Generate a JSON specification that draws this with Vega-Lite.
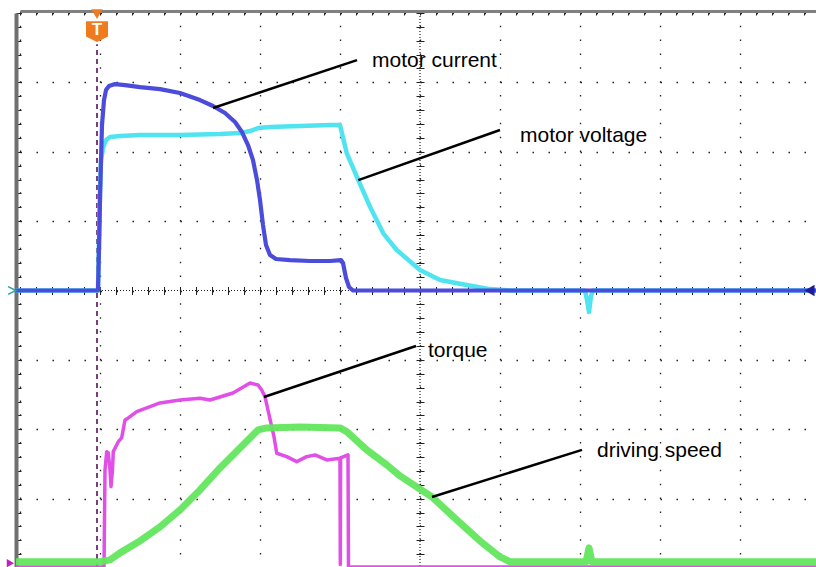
{
  "$schema": "https://vega.github.io/schema/vega-lite/v6.json",
  "width": 800,
  "height": 555,
  "autosize": "none",
  "padding": {"left": 20, "top": 13, "right": 0, "bottom": 0},
  "background": "white",
  "config": {"view": {"stroke": null}},
  "resolve": {"axis": {"x": "independent", "y": "independent"}},
  "datasets": {
    "current": [
      {"x": -0.05, "y": 0}, {"x": 0.975, "y": 0}, {"x": 0.9875, "y": 0.584}, {"x": 1.0, "y": 1.304},
      {"x": 1.0125, "y": 1.88}, {"x": 1.025, "y": 2.385}, {"x": 1.05, "y": 2.745}, {"x": 1.075, "y": 2.889},
      {"x": 1.1125, "y": 2.947}, {"x": 1.1875, "y": 2.976}, {"x": 1.3125, "y": 2.961}, {"x": 1.5, "y": 2.932},
      {"x": 1.75, "y": 2.903}, {"x": 2.0, "y": 2.846}, {"x": 2.25, "y": 2.745}, {"x": 2.4125, "y": 2.659},
      {"x": 2.5625, "y": 2.558}, {"x": 2.6875, "y": 2.428}, {"x": 2.775, "y": 2.284}, {"x": 2.85, "y": 2.097},
      {"x": 2.9125, "y": 1.88}, {"x": 2.9625, "y": 1.592}, {"x": 3.0, "y": 1.304}, {"x": 3.0375, "y": 0.944},
      {"x": 3.075, "y": 0.656}, {"x": 3.125, "y": 0.512}, {"x": 3.2, "y": 0.454}, {"x": 3.375, "y": 0.439},
      {"x": 3.625, "y": 0.425}, {"x": 3.875, "y": 0.425}, {"x": 4.0125, "y": 0.439}, {"x": 4.0375, "y": 0.396},
      {"x": 4.075, "y": 0.18}, {"x": 4.1125, "y": 0.05}, {"x": 4.1625, "y": 0}, {"x": 10, "y": 0}
    ],
    "voltage": [
      {"x": -0.05, "y": 0}, {"x": 0.975, "y": 0}, {"x": 0.9875, "y": 0.728}, {"x": 1.0, "y": 1.448},
      {"x": 1.0125, "y": 1.88}, {"x": 1.0375, "y": 2.053}, {"x": 1.075, "y": 2.169}, {"x": 1.125, "y": 2.212},
      {"x": 1.25, "y": 2.226}, {"x": 1.5, "y": 2.241}, {"x": 2.0, "y": 2.241}, {"x": 2.5, "y": 2.255},
      {"x": 2.75, "y": 2.269}, {"x": 2.875, "y": 2.298}, {"x": 2.975, "y": 2.341}, {"x": 3.125, "y": 2.356},
      {"x": 3.5, "y": 2.37}, {"x": 3.875, "y": 2.384}, {"x": 4.0, "y": 2.384}, {"x": 4.084, "y": 1.981},
      {"x": 4.229, "y": 1.592}, {"x": 4.375, "y": 1.207}, {"x": 4.541, "y": 0.824}, {"x": 4.709, "y": 0.584},
      {"x": 5.0, "y": 0.295}, {"x": 5.25, "y": 0.151}, {"x": 5.584, "y": 0.079}, {"x": 5.875, "y": 0.02},
      {"x": 6.125, "y": 0}, {"x": 7.0625, "y": 0}, {"x": 7.0875, "y": -0.137}, {"x": 7.1125, "y": -0.31},
      {"x": 7.1375, "y": -0.08}, {"x": 7.1625, "y": 0}, {"x": 10, "y": 0}
    ],
    "torque": [
      {"x": -0.05, "y": -3.985}, {"x": 1.05, "y": -3.985}, {"x": 1.0625, "y": -2.586}, {"x": 1.084, "y": -2.323},
      {"x": 1.104, "y": -2.341}, {"x": 1.125, "y": -2.586}, {"x": 1.1375, "y": -2.827}, {"x": 1.156, "y": -2.586},
      {"x": 1.166, "y": -2.323}, {"x": 1.229, "y": -2.179}, {"x": 1.271, "y": -2.125}, {"x": 1.3125, "y": -1.866},
      {"x": 1.354, "y": -1.837}, {"x": 1.459, "y": -1.746}, {"x": 1.584, "y": -1.693}, {"x": 1.75, "y": -1.621},
      {"x": 2.0, "y": -1.578}, {"x": 2.25, "y": -1.553}, {"x": 2.375, "y": -1.578}, {"x": 2.6625, "y": -1.477},
      {"x": 2.875, "y": -1.333}, {"x": 2.975, "y": -1.362}, {"x": 3.021, "y": -1.434}, {"x": 3.0625, "y": -1.53},
      {"x": 3.104, "y": -1.746}, {"x": 3.146, "y": -1.963}, {"x": 3.175, "y": -2.107}, {"x": 3.209, "y": -2.346},
      {"x": 3.334, "y": -2.395}, {"x": 3.459, "y": -2.467}, {"x": 3.584, "y": -2.395}, {"x": 3.6875, "y": -2.37},
      {"x": 3.834, "y": -2.442}, {"x": 4.0, "y": -2.418}, {"x": 4.004, "y": -3.95}, {"x": 4.0075, "y": -2.414},
      {"x": 4.1, "y": -2.37}, {"x": 4.106, "y": -3.985}, {"x": 10, "y": -3.985}
    ],
    "speed": [
      {"x": -0.05, "y": -3.91}, {"x": 1.0, "y": -3.91}, {"x": 1.125, "y": -3.883}, {"x": 1.25, "y": -3.782},
      {"x": 1.5, "y": -3.61}, {"x": 1.75, "y": -3.408}, {"x": 2.0, "y": -3.163}, {"x": 2.25, "y": -2.875},
      {"x": 2.5, "y": -2.558}, {"x": 2.75, "y": -2.27}, {"x": 2.975, "y": -2.01}, {"x": 3.084, "y": -1.981},
      {"x": 3.5, "y": -1.967}, {"x": 4.0, "y": -1.981}, {"x": 4.084, "y": -2.034}, {"x": 4.334, "y": -2.298},
      {"x": 4.584, "y": -2.514}, {"x": 4.75, "y": -2.673}, {"x": 5.15, "y": -2.976}, {"x": 5.5, "y": -3.35},
      {"x": 5.75, "y": -3.61}, {"x": 6.0, "y": -3.84}, {"x": 6.125, "y": -3.91}, {"x": 7.075, "y": -3.91},
      {"x": 7.1125, "y": -3.71}, {"x": 7.15, "y": -3.91}, {"x": 10, "y": -3.91}
    ],
    "leaders": [
      {"x": 4.2125, "y": 3.321, "x2": 2.4125, "y2": 2.63},
      {"x": 6.0, "y": 2.313, "x2": 4.229, "y2": 1.592},
      {"x": 4.95, "y": -0.8, "x2": 3.05, "y2": -1.535},
      {"x": 7.025, "y": -2.298, "x2": 5.15, "y2": -2.976}
    ],
    "labels": [
      {"x": 4.4, "y": 3.22, "t": "motor current"},
      {"x": 6.25, "y": 2.14, "t": "motor voltage"},
      {"x": 5.1, "y": -0.958, "t": "torque"},
      {"x": 7.2125, "y": -2.399, "t": "driving speed"}
    ]
  },
  "layer": [
    {
      "data": {"values": [{"cx": 5}]},
      "mark": {"type": "rule", "color": "#222", "strokeDash": [1, 2], "strokeWidth": 1.2},
      "encoding": {
        "x": {"field": "cx", "type": "quantitative", "scale": {"domain": [0, 10], "nice": false, "zero": false},
          "axis": {"orient": "bottom", "values": [0,1,2,3,4,5,6,7,8,9,10], "grid": true, "gridColor": "#222", "gridDash": [1.5, 12.38], "gridWidth": 1.3, "ticks": false, "labels": false, "domain": false, "title": null}}
      }
    },
    {
      "data": {"values": [{"cy": 0}]},
      "mark": {"type": "rule", "color": "#222", "strokeDash": [1, 2], "strokeWidth": 1.2},
      "encoding": {
        "y": {"field": "cy", "type": "quantitative", "scale": {"domain": [-4, 4], "nice": false, "zero": false},
          "axis": {"orient": "left", "values": [-4,-3,-2,-1,0,1,2,3,4], "grid": true, "gridColor": "#222", "gridDash": [1.5, 14.5], "gridWidth": 1.3, "ticks": false, "labels": false, "domain": false, "title": null}}
      }
    },
    {
      "data": {"values": [{"tx": 0.9625, "ty": -4, "ty2": 3.55}]},
      "mark": {"type": "rule", "color": "#6e2a70", "strokeDash": [5, 4], "strokeWidth": 1.8},
      "encoding": {
        "x": {"field": "tx", "type": "quantitative", "scale": {"domain": [0, 10], "nice": false, "zero": false},
          "axis": {"orient": "top", "offset": 2, "values": [0,0.2,0.4,0.6,0.8,1,1.2,1.4,1.6,1.8,2,2.2,2.4,2.6,2.8,3,3.2,3.4,3.6,3.8,4,4.2,4.4,4.6,4.8,5,5.2,5.4,5.6,5.8,6,6.2,6.4,6.6,6.8,7,7.2,7.4,7.6,7.8,8,8.2,8.4,8.6,8.8,9,9.2,9.4,9.6,9.8,10], "domain": true, "domainColor": "#808080", "domainWidth": 3, "ticks": true, "tickColor": "#222", "tickSize": -4, "tickWidth": 1, "labels": false, "grid": false, "title": null}},
        "y": {"field": "ty", "type": "quantitative", "scale": {"domain": [-4, 4], "nice": false, "zero": false},
          "axis": {"orient": "left", "offset": 4, "values": [-4,-3.8,-3.6,-3.4,-3.2,-3,-2.8,-2.6,-2.4,-2.2,-2,-1.8,-1.6,-1.4,-1.2,-1,-0.8,-0.6,-0.4,-0.2,0,0.2,0.4,0.6,0.8,1,1.2,1.4,1.6,1.8,2,2.2,2.4,2.6,2.8,3,3.2,3.4,3.6,3.8,4], "domain": true, "domainColor": "#707070", "domainWidth": 4, "ticks": true, "tickColor": "#222", "tickSize": -5, "tickWidth": 1, "labels": false, "grid": false, "title": null}},
        "y2": {"field": "ty2"}
      }
    },
    {
      "data": {"name": "voltage"},
      "mark": {"type": "line", "color": "#4fe4ef", "strokeWidth": 4.5, "strokeJoin": "round"},
      "encoding": {
        "x": {"field": "x", "type": "quantitative", "scale": {"domain": [0, 10], "nice": false, "zero": false},
          "axis": {"orient": "bottom", "offset": -281.5, "values": [0,0.2,0.4,0.6,0.8,1,1.2,1.4,1.6,1.8,2,2.2,2.4,2.6,2.8,3,3.2,3.4,3.6,3.8,4,4.2,4.4,4.6,4.8,5,5.2,5.4,5.6,5.8,6,6.2,6.4,6.6,6.8,7,7.2,7.4,7.6,7.8,8,8.2,8.4,8.6,8.8,9,9.2,9.4,9.6,9.8,10], "domain": false, "ticks": true, "tickColor": "#222", "tickSize": 8, "tickWidth": 1, "labels": false, "grid": false, "title": null}},
        "y": {"field": "y", "type": "quantitative", "scale": {"domain": [-4, 4], "nice": false, "zero": false},
          "axis": {"orient": "left", "offset": -404, "values": [-4,-3.8,-3.6,-3.4,-3.2,-3,-2.8,-2.6,-2.4,-2.2,-2,-1.8,-1.6,-1.4,-1.2,-1,-0.8,-0.6,-0.4,-0.2,0,0.2,0.4,0.6,0.8,1,1.2,1.4,1.6,1.8,2,2.2,2.4,2.6,2.8,3,3.2,3.4,3.6,3.8,4], "domain": false, "ticks": true, "tickColor": "#222", "tickSize": 8, "tickWidth": 1, "labels": false, "grid": false, "title": null}},
        "order": {"value": null}
      }
    },
    {
      "data": {"name": "current"},
      "mark": {"type": "line", "color": "#4b4bdc", "strokeWidth": 4.2, "strokeJoin": "round"},
      "encoding": {
        "x": {"field": "x", "type": "quantitative", "scale": {"domain": [0, 10], "nice": false, "zero": false}, "axis": null},
        "y": {"field": "y", "type": "quantitative", "scale": {"domain": [-4, 4], "nice": false, "zero": false}, "axis": null},
        "order": {"value": null}
      }
    },
    {
      "data": {"name": "torque"},
      "mark": {"type": "line", "color": "#e04fe6", "strokeWidth": 3.5, "strokeJoin": "round"},
      "encoding": {
        "x": {"field": "x", "type": "quantitative", "scale": {"domain": [0, 10], "nice": false, "zero": false}, "axis": null},
        "y": {"field": "y", "type": "quantitative", "scale": {"domain": [-4, 4], "nice": false, "zero": false}, "axis": null},
        "order": {"value": null}
      }
    },
    {
      "data": {"name": "speed"},
      "mark": {"type": "line", "color": "#62e65c", "strokeWidth": 7, "strokeJoin": "round", "opacity": 0.95},
      "encoding": {
        "x": {"field": "x", "type": "quantitative", "scale": {"domain": [0, 10], "nice": false, "zero": false}, "axis": null},
        "y": {"field": "y", "type": "quantitative", "scale": {"domain": [-4, 4], "nice": false, "zero": false}, "axis": null},
        "order": {"value": null}
      }
    },
    {
      "data": {"name": "leaders"},
      "mark": {"type": "rule", "color": "#000", "strokeWidth": 2.5},
      "encoding": {
        "x": {"field": "x", "type": "quantitative", "scale": {"domain": [0, 10], "nice": false, "zero": false}, "axis": null},
        "y": {"field": "y", "type": "quantitative", "scale": {"domain": [-4, 4], "nice": false, "zero": false}, "axis": null},
        "x2": {"field": "x2"},
        "y2": {"field": "y2"}
      }
    },
    {
      "data": {"name": "labels"},
      "mark": {"type": "text", "font": "Liberation Sans", "fontSize": 21, "align": "left", "baseline": "alphabetic", "color": "#000"},
      "encoding": {
        "x": {"field": "x", "type": "quantitative", "scale": {"domain": [0, 10], "nice": false, "zero": false}, "axis": null},
        "y": {"field": "y", "type": "quantitative", "scale": {"domain": [-4, 4], "nice": false, "zero": false}, "axis": null},
        "text": {"field": "t"}
      }
    },
    {
      "data": {"values": [{"mx": 0.9625, "my": 3.739}]},
      "mark": {"type": "point", "shape": "M -1 -0.9 L 1 -0.9 L 1 0.5 L 0 1 L -1 0.5 Z", "size": 484, "filled": true, "color": "#f07a1e", "opacity": 1},
      "encoding": {
        "x": {"field": "mx", "type": "quantitative", "scale": {"domain": [0, 10], "nice": false, "zero": false}, "axis": null},
        "y": {"field": "my", "type": "quantitative", "scale": {"domain": [-4, 4], "nice": false, "zero": false}, "axis": null}
      }
    },
    {
      "data": {"values": [{"mx": 0.9625, "my": 3.984}]},
      "mark": {"type": "point", "shape": "triangle-down", "size": 130, "filled": true, "color": "#f07a1e", "opacity": 1},
      "encoding": {
        "x": {"field": "mx", "type": "quantitative", "scale": {"domain": [0, 10], "nice": false, "zero": false}, "axis": null},
        "y": {"field": "my", "type": "quantitative", "scale": {"domain": [-4, 4], "nice": false, "zero": false}, "axis": null}
      }
    },
    {
      "data": {"values": [{"mx": 0.9625, "my": 3.76, "t": "T"}]},
      "mark": {"type": "text", "font": "Liberation Sans", "fontWeight": "bold", "fontSize": 17, "color": "white", "align": "center", "baseline": "middle"},
      "encoding": {
        "x": {"field": "mx", "type": "quantitative", "scale": {"domain": [0, 10], "nice": false, "zero": false}, "axis": null},
        "y": {"field": "my", "type": "quantitative", "scale": {"domain": [-4, 4], "nice": false, "zero": false}, "axis": null},
        "text": {"field": "t"}
      }
    },
    {
      "data": {"values": [{"mx": 9.87, "my": 0}]},
      "mark": {"type": "point", "shape": "triangle-left", "size": 130, "filled": true, "color": "#1c1c9c", "opacity": 1},
      "encoding": {
        "x": {"field": "mx", "type": "quantitative", "scale": {"domain": [0, 10], "nice": false, "zero": false}, "axis": null},
        "y": {"field": "my", "type": "quantitative", "scale": {"domain": [-4, 4], "nice": false, "zero": false}, "axis": null}
      }
    },
    {
      "data": {"values": [{"mx": -0.1, "my": 0}]},
      "mark": {"type": "point", "shape": "M -1 -1 L 1 0 L -1 1", "size": 60, "filled": false, "color": "#2aa39a", "strokeWidth": 1.5, "opacity": 1},
      "encoding": {
        "x": {"field": "mx", "type": "quantitative", "scale": {"domain": [0, 10], "nice": false, "zero": false}, "axis": null},
        "y": {"field": "my", "type": "quantitative", "scale": {"domain": [-4, 4], "nice": false, "zero": false}, "axis": null}
      }
    },
    {
      "data": {"values": [{"mx": -0.12, "my": -3.93}]},
      "mark": {"type": "point", "shape": "triangle-right", "size": 70, "filled": true, "color": "#c020c0", "opacity": 1},
      "encoding": {
        "x": {"field": "mx", "type": "quantitative", "scale": {"domain": [0, 10], "nice": false, "zero": false}, "axis": null},
        "y": {"field": "my", "type": "quantitative", "scale": {"domain": [-4, 4], "nice": false, "zero": false}, "axis": null}
      }
    }
  ]
}
